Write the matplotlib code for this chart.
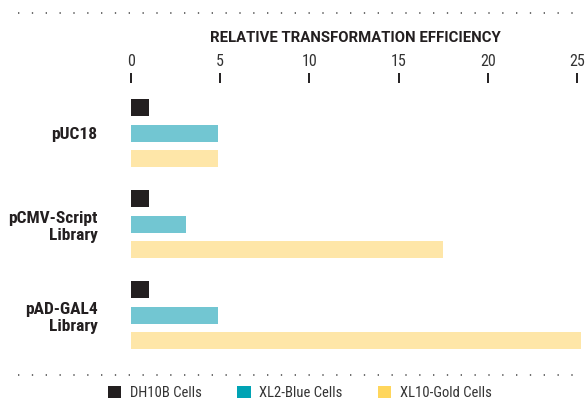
import matplotlib
matplotlib.use("Agg")
import matplotlib.pyplot as plt
from matplotlib.patches import Patch
from matplotlib.lines import Line2D
import numpy as np

plt.rcParams['font.family'] = ['Roboto Condensed', 'DejaVu Sans']

vectors = ["pUC18", "pCMV-Script\nLibrary", "pAD-GAL4\nLibrary"]
strains = ["DH10B Cells", "XL2-Blue Cells", "XL10-Gold Cells"]
dh10b = [1.0, 1.0, 1.0]
xl2_blue = [4.9, 3.1, 4.9]
xl10_gold = [4.9, 17.5, 25.2]
xticks = [0, 5, 10, 15, 20, 25]

bar_colors = ["#231f20", "#72c6d2", "#fee6a8"]
legend_colors = ["#231f20", "#00a3b4", "#ffd65c"]

W, H = 587, 404
fig = plt.figure(figsize=(W / 100, H / 100), dpi=100)
ax = fig.add_axes([131 / W, 1 - 360 / H, (577 - 131) / W, (360 - 83) / H])

y = np.arange(len(vectors))
offset = 0.28
height = 0.187
for i, vals in enumerate([dh10b, xl2_blue, xl10_gold]):
    ax.barh(y + (i - 1) * offset, vals, height=height, color=bar_colors[i],
            clip_on=False, zorder=3)

ax.set_xlim(0, 25)
ax.set_ylim(2.49, -0.55)
ax.set_xticks(xticks)
ax.xaxis.tick_top()
ax.tick_params(axis='x', length=7.2, width=1.4, color="#231f20", pad=3,
               labelsize=11.5, labelcolor="#333333", direction='out')
ax.set_yticks(y)
ax.set_yticklabels(vectors, fontsize=12.5, fontweight='bold', color="#231f20",
                   linespacing=1.2)
ax.tick_params(axis='y', length=0, pad=24)
for s in ax.spines.values():
    s.set_visible(False)

fig.text(355 / W, 1 - 38 / H, "RELATIVE TRANSFORMATION EFFICIENCY",
         ha='center', va='center', fontsize=10.7, fontweight='bold',
         color="#231f20", family=['Roboto', 'DejaVu Sans'])

# dotted rules
for yy in [13, 375]:
    fig.add_artist(Line2D([18 / W, 582 / W], [1 - yy / H, 1 - yy / H],
                          transform=fig.transFigure, color="#555555",
                          linestyle=(0, (0.8, 7.5)), linewidth=1.2))

handles = [Patch(facecolor=c, edgecolor='none') for c in legend_colors]
fig.legend(handles, strains, loc='center', bbox_to_anchor=(300 / W, 1 - 393 / H),
           ncol=3, frameon=False, fontsize=10.5, handlelength=0.9, handleheight=0.9,
           handletextpad=0.6, columnspacing=2.45, labelcolor="#333333")

fig.savefig("out.png", dpi=100)
